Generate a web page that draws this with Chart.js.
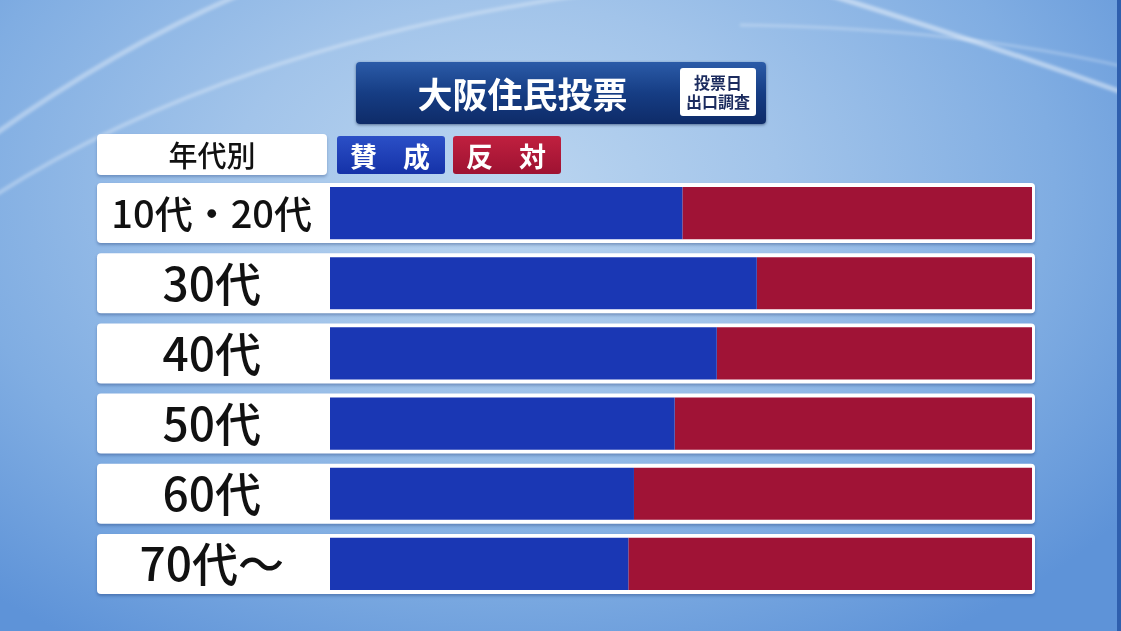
<!DOCTYPE html>
<html lang="ja">
<head>
<meta charset="utf-8">
<script src="https://cdn.jsdelivr.net/npm/chart.js@4.4.0/dist/chart.umd.min.js"></script>
<style>
  html, body { margin: 0; padding: 0; }
  body {
    width: 1121px; height: 631px; overflow: hidden; position: relative;
    font-family: "Noto Sans CJK JP", "Noto Sans", sans-serif;
    background: radial-gradient(ellipse 70% 85% at 45% 30%, #bcd6f0 0%, #a2c4ea 35%, #80ade2 70%, #5e93d8 100%);
  }
  #swoosh { position: absolute; left: 0; top: 0; }
  .edge { position: absolute; right: 0; top: 0; width: 4px; height: 631px; background: #2f5fae; }
  #wrap { position: absolute; left: 0; top: 0; width: 1121px; height: 631px; }
  .title {
    position: absolute; left: 356px; top: 62px; width: 410px; height: 62px; border-radius: 4px;
    background: linear-gradient(#2b5ba8, #163d84 50%, #0e2b68);
    box-shadow: 0 1px 3px rgba(0, 20, 60, .5);
  }
  .title h1 {
    margin: 0; position: absolute; left: 0; top: 0; width: 333px; line-height: 62px;
    text-align: center; color: #fff; font-size: 35px; font-weight: 700; letter-spacing: 0;
  }
  .title .tag {
    position: absolute; left: 324px; top: 6px; width: 76px; height: 48px; border-radius: 3px;
    background: #fff; color: #1b2b5e; font-size: 16px; font-weight: 700; line-height: 19px;
    text-align: center; padding-top: 5px; box-sizing: border-box;
  }
  .agehead {
    position: absolute; left: 97px; top: 134px; width: 230px; height: 41px; border-radius: 4px;
    background: #fff; color: #111; font-size: 29px; font-weight: 500; line-height: 41px; text-align: center;
    box-shadow: 0 2px 3px rgba(20, 50, 110, .3);
  }
  #legend { position: absolute; left: 337px; top: 136px; display: flex; gap: 8px; }
  #legend .item {
    width: 108px; height: 38px; border-radius: 3px; box-sizing: border-box; padding: 0 15px 0 13px;
    display: flex; justify-content: space-between; align-items: center;
    color: #fff; font-size: 27px; font-weight: 700;
  }
</style>
</head>
<body>
<svg id="swoosh" width="1121" height="631">
  <defs><filter id="blur"><feGaussianBlur stdDeviation="1.6"/></filter></defs>
  <path d="M -20 145 Q 110 50 250 -10" stroke="rgba(255,255,255,0.35)" stroke-width="5" fill="none" filter="url(#blur)"/>
  <path d="M -20 205 Q 230 40 620 -10" stroke="rgba(255,255,255,0.3)" stroke-width="4" fill="none" filter="url(#blur)"/>
  <path d="M 830 -5 Q 990 45 1130 95" stroke="rgba(255,255,255,0.45)" stroke-width="5" fill="none" filter="url(#blur)"/>
  <path d="M 740 25 Q 960 28 1130 68" stroke="rgba(255,255,255,0.25)" stroke-width="3" fill="none" filter="url(#blur)"/>
</svg>
<div class="edge"></div>
<div id="wrap"><canvas id="voteChart"></canvas></div>
<div class="title"><h1>大阪住民投票</h1><div class="tag">投票日<br>出口調査</div></div>
<div class="agehead">年代別</div>
<div id="legend"></div>
<script>
// --- data (percent of each age group) ---
const ageGroups = ['10代・20代', '30代', '40代', '50代', '60代', '70代～'];
const seriesNames = ['賛成', '反対'];
const yesValues = [50.2, 60.8, 55.1, 49.1, 43.3, 42.5];
const noValues = [49.8, 39.2, 44.9, 50.9, 56.7, 57.5];
const seriesColors = ['#1a37b4', '#a01336'];
const legendColors = [
  'linear-gradient(#2b4fc6, #1532a8)',
  'linear-gradient(#c0203f, #9e1232)'
];

document.addEventListener('DOMContentLoaded', () => {
  // legend boxes built from the series names
  const legend = document.getElementById('legend');
  seriesNames.forEach((name, i) => {
    const item = document.createElement('div');
    item.className = 'item';
    item.style.background = legendColors[i];
    item.innerHTML = name.split('').map(c => `<span>${c}</span>`).join('');
    legend.appendChild(item);
  });

  // white row frames behind each age label and bar
  const rowFrames = {
    id: 'rowFrames',
    beforeDraw(chart) {
      const { ctx, chartArea, scales } = chart;
      ctx.save();
      ctx.shadowColor = 'rgba(20, 50, 110, 0.35)';
      ctx.shadowBlur = 3;
      ctx.shadowOffsetY = 2;
      ctx.fillStyle = '#ffffff';
      ageGroups.forEach((g, i) => {
        const yc = scales.y.getPixelForValue(i);
        ctx.beginPath();
        ctx.roundRect(97, yc - 30, chartArea.right + 3 - 97, 60, 4);
        ctx.fill();
      });
      ctx.restore();
    }
  };

  const ctx = document.getElementById('voteChart').getContext('2d');
  new Chart(ctx, {
    type: 'bar',
    data: {
      labels: ageGroups,
      datasets: [
        { label: seriesNames[0], data: yesValues, backgroundColor: seriesColors[0] },
        { label: seriesNames[1], data: noValues, backgroundColor: seriesColors[1] }
      ]
    },
    options: {
      indexAxis: 'y',
      responsive: true,
      maintainAspectRatio: false,
      animation: false,
      layout: { padding: { left: 97, right: 89, top: 178, bottom: 32 } },
      datasets: { bar: { categoryPercentage: 1, barPercentage: 0.743, borderWidth: 0 } },
      scales: {
        x: { stacked: true, min: 0, max: 100, display: false },
        y: {
          stacked: true,
          grid: { display: false, drawTicks: false },
          border: { display: false },
          afterFit: (scale) => {
            scale.width = 233;
            scale.paddingTop = 0;
            scale.paddingBottom = 0;
          },
          ticks: {
            crossAlign: 'center',
            padding: 18,
            color: '#111',
            font: (c) => ({
              family: '"Noto Sans CJK JP", sans-serif',
              size: c.index === 0 ? 38 : 46,
              weight: '500'
            })
          }
        }
      },
      plugins: {
        legend: { display: false },
        tooltip: { enabled: false }
      }
    },
    plugins: [rowFrames]
  });
});
</script>
</body>
</html>
